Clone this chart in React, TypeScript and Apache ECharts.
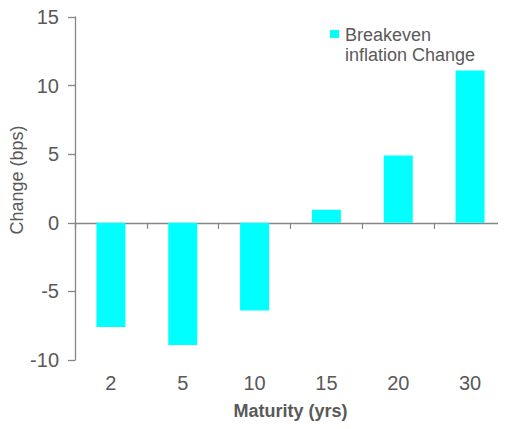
import React, { useEffect, useRef } from "react";
import * as echarts from "echarts";

const categories = ["2", "5", "10", "15", "20", "30"];
const breakevenChange = [-7.6, -8.9, -6.4, 0.95, 4.9, 11.1];
const yTicks = { min: -10, max: 15, interval: 5 };
const seriesName = "Breakeven inflation Change";

const FONT = "'Liberation Sans', Arial, sans-serif";
const TEXT = "#595959";
const AXIS = "#868686";
const CYAN = "#00FFFF";

export default function App() {
  const ref = useRef<HTMLDivElement>(null);
  useEffect(() => {
    if (!ref.current) return;
    const chart = echarts.init(ref.current, undefined, { renderer: "svg" });
    chart.setOption({
      animation: false,
      backgroundColor: "#ffffff",
      textStyle: { fontFamily: FONT },
      grid: { left: 75, right: -3, top: 17, bottom: 69, containLabel: false },
      xAxis: [
        {
          type: "category",
          data: categories,
          position: "bottom",
          axisLine: { show: false, onZero: false },
          axisTick: { show: false },
          axisLabel: { color: TEXT, fontSize: 20, margin: 13, fontFamily: FONT },
          name: "Maturity (yrs)",
          nameLocation: "middle",
          nameGap: 42,
          nameTextStyle: { color: TEXT, fontSize: 18, fontWeight: "bold", fontFamily: FONT },
        },
        {
          type: "category",
          data: categories,
          position: "bottom",
          axisLine: { show: true, onZero: true, lineStyle: { color: AXIS, width: 1.3 } },
          axisTick: { show: true, length: 6, lineStyle: { color: AXIS, width: 1.3 } },
          axisLabel: { show: false },
        },
      ],
      yAxis: {
        type: "value",
        min: yTicks.min,
        max: yTicks.max,
        interval: yTicks.interval,
        axisLine: { show: true, lineStyle: { color: AXIS, width: 1.3 } },
        axisTick: { show: true, length: 7, lineStyle: { color: AXIS, width: 1.3 } },
        splitLine: { show: false },
        axisLabel: { color: TEXT, fontSize: 20, margin: 16, fontFamily: FONT },
      },
      graphic: [
        {
          type: "text",
          x: 17,
          y: 180,
          rotation: Math.PI / 2,
          style: {
            text: "Change (bps)",
            fill: TEXT,
            fontSize: 18,
            fontFamily: FONT,
            align: "center",
            verticalAlign: "middle",
          },
        },
        {
          type: "rect",
          shape: { x: 330, y: 30, width: 9, height: 8 },
          style: { fill: CYAN },
        },
        {
          type: "text",
          x: 345,
          y: 25,
          style: {
            text: "Breakeven\ninflation Change",
            fill: TEXT,
            fontSize: 18,
            lineHeight: 20,
            fontFamily: FONT,
            align: "left",
            verticalAlign: "top",
          },
        },
      ],
      series: [
        {
          name: seriesName,
          type: "bar",
          xAxisIndex: 0,
          data: breakevenChange,
          barWidth: 29,
          itemStyle: { color: CYAN },
        },
      ],
    });
    return () => chart.dispose();
  }, []);
  return <div ref={ref} style={{ width: 506, height: 429, margin: -8 }} />;
}
